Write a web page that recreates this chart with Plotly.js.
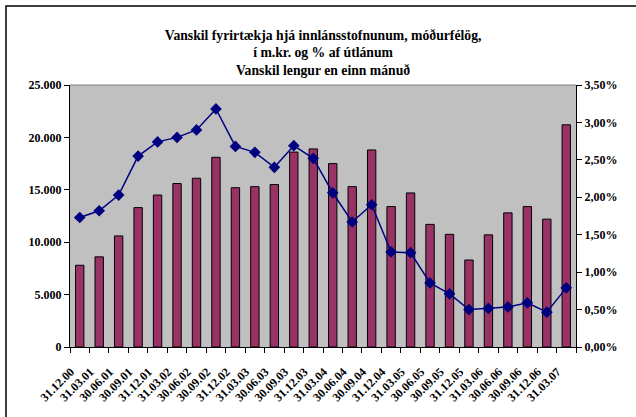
<!DOCTYPE html>
<html>
<head>
<meta charset="utf-8">
<script src="https://cdn.plot.ly/plotly-3.0.1.min.js"></script>
<style>
html,body{margin:0;padding:0;background:#fff;}
#chart{width:636px;height:417px;}
</style>
</head>
<body>
<div id="chart"></div>
<script>
const categories = ['31.12.00','31.03.01','30.06.01','30.09.01','31.12.01','31.03.02','30.06.02','30.09.02','31.12.02','31.03.03','30.06.03','30.09.03','31.12.03','31.03.04','30.06.04','30.09.04','31.12.04','31.03.05','30.06.05','30.09.05','31.12.05','31.03.06','30.06.06','30.09.06','31.12.06','31.03.07'];
const vanskilMkr = [7800,8600,10600,13300,14500,15600,16100,18100,15200,15300,15500,18600,18900,17500,15300,18800,13400,14700,11700,10750,8300,10700,12800,13400,12200,21200];
const vanskilPct = [1.73,1.82,2.03,2.55,2.74,2.80,2.90,3.18,2.68,2.60,2.40,2.69,2.52,2.06,1.67,1.90,1.27,1.26,0.855,0.71,0.50,0.515,0.535,0.59,0.465,0.79];
const leftTicks = [0,5000,10000,15000,20000,25000];
const rightTicks = [0,0.5,1,1.5,2,2.5,3,3.5];
const rightTickText = rightTicks.map(v => v.toFixed(2).replace('.', ',') + '%');

const FONT = 'Liberation Serif, Times New Roman, serif';

const traces = [
  {
    type: 'bar', x: categories, y: vanskilMkr, name: 'm.kr.',
    marker: {color: '#993366', line: {color: '#000000', width: 1}},
    yaxis: 'y', hoverinfo: 'x+y'
  },
  {
    type: 'scatter', mode: 'lines+markers', x: categories, y: vanskilPct, name: '%',
    line: {color: '#000080', width: 1.5},
    marker: {symbol: 'diamond', size: 9, color: '#000080'},
    yaxis: 'y2'
  }
];

const W = 506, H = 262, L = 70, T = 85;
function px(x){return (x - L)/W;}
function py(y){return (T + H - y)/H;}

const TF = {family: FONT, size: 12, color: '#000', weight: 'bold'};

const layout = {
  width: 636, height: 417,
  margin: {l: 70, r: 60, t: 85, b: 70},
  paper_bgcolor: '#ffffff',
  plot_bgcolor: '#c0c0c0',
  showlegend: false,
  separators: ',.',
  bargap: 0.57,
  font: {family: FONT, size: 12, color: '#000'},
  title: {
    text: '<b>Vanskil fyrirtækja hjá innlánsstofnunum, móðurfélög,<br>í m.kr. og % af útlánum<br>Vanskil lengur en einn mánuð</b>',
    font: {family: FONT, size: 13.7, color: '#000'},
    x: 0.508, xanchor: 'center', xref: 'container',
    y: 0.905, yanchor: 'top', yref: 'container'
  },
  xaxis: {
    type: 'category', range: [-0.5, categories.length - 0.5],
    tickson: 'boundaries', ticks: 'outside', ticklen: 5, tickcolor: '#000',
    tickangle: -45, showline: true, linecolor: '#000', linewidth: 1,
    ticklabelstandoff: 12, ticklabelshift: -9,
    tickfont: TF, showgrid: false, automargin: false, fixedrange: true
  },
  yaxis: {
    range: [0, 25000], tickvals: leftTicks, tickformat: ',d', ticks: 'outside', ticklen: 5, tickcolor: '#000',
    showline: true, linecolor: '#000', linewidth: 1, showgrid: false, zeroline: false,
    tickfont: TF, automargin: false, fixedrange: true
  },
  yaxis2: {
    range: [0, 3.5], tickvals: rightTicks, ticktext: rightTickText, overlaying: 'y', side: 'right',
    ticks: 'outside', ticklen: 5, tickcolor: '#000',
    showline: true, linecolor: '#000', linewidth: 1, showgrid: false, zeroline: false,
    tickfont: TF, automargin: false, fixedrange: true
  },
  shapes: [
    {type: 'line', xref: 'paper', yref: 'paper', x0: 0, x1: 1, y0: 1, y1: 1, line: {color: '#808080', width: 1}},
    {type: 'rect', xref: 'paper', yref: 'paper', x0: px(6), x1: px(650), y0: py(6), y1: py(430), line: {color: '#000', width: 1.5}, fillcolor: 'rgba(0,0,0,0)', layer: 'below'}
  ]
};

Plotly.newPlot('chart', traces, layout, {displayModeBar: false, staticPlot: true});
</script>
</body>
</html>
